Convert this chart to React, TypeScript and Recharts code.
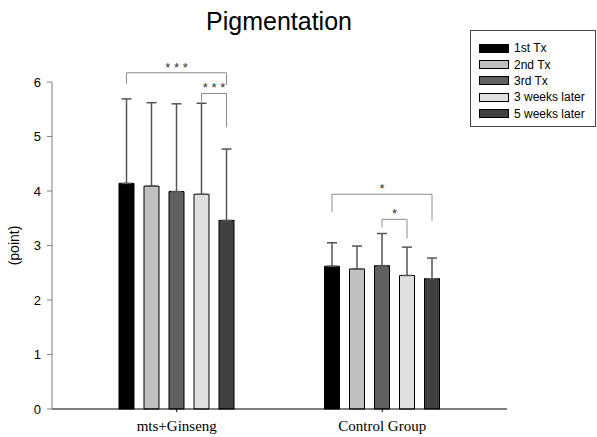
import React from 'react';
import { BarChart, Bar, XAxis, YAxis, ErrorBar } from 'recharts';

const groups = ['mts+Ginseng', 'Control Group'];
const seriesNames = ['1st Tx', '2nd Tx', '3rd Tx', '3 weeks later', '5 weeks later'];
const seriesColors = ['#000000', '#c0c0c0', '#606060', '#e0e0e0', '#404040'];

const tx1 = [4.14, 2.62];
const tx2 = [4.09, 2.57];
const tx3 = [3.99, 2.63];
const wk3 = [3.94, 2.45];
const wk5 = [3.46, 2.39];

const tx1Sd = [1.55, 0.43];
const tx2Sd = [1.53, 0.42];
const tx3Sd = [1.61, 0.59];
const wk3Sd = [1.67, 0.52];
const wk5Sd = [1.31, 0.38];

const yTicks = [0, 1, 2, 3, 4, 5, 6];

// significance brackets: bar indices, top of bracket and where each leg ends (y units)
const brackets = [
  { group: 0, from: 0, to: 4, top: 6.17, left: 5.97, right: 5.95, label: '* * *' },
  { group: 0, from: 3, to: 4, top: 5.79, left: 5.64, right: 5.17, label: '* * *' },
  { group: 1, from: 0, to: 4, top: 3.94, left: 3.62, right: 3.45, label: '*' },
  { group: 1, from: 2, to: 3, top: 3.48, left: 3.33, right: 3.13, label: '*' },
];

const means = [tx1, tx2, tx3, wk3, wk5];
const sds = [tx1Sd, tx2Sd, tx3Sd, wk3Sd, wk5Sd];

const data = groups.map((name, g) => {
  const row: any = { name };
  means.forEach((m, s) => {
    row['s' + s] = m[g];
    row['e' + s] = [0, sds[s][g]];
  });
  return row;
});

const BAR_SIZE = 15;
const BAR_GAP = 10;

// last series shape: draws its bar and the bracket annotations for that group
const LastBarShape = (props: any) => {
  const { x, y, width, height, fill, payload } = props;
  const g = groups.indexOf(payload.name);
  const value = payload.s4;
  const base = y + height;
  const py = (v: number) => base - (v * height) / value;
  const pitch = width + BAR_GAP;
  const cx = (i: number) => x + width / 2 - (4 - i) * pitch;
  return (
    <g>
      <rect x={x} y={y} width={width} height={height} fill={fill} stroke="#000" strokeWidth={1} />
      {brackets
        .filter((b) => b.group === g)
        .map((b, i) => {
          const x1 = cx(b.from);
          const x2 = cx(b.to);
          const yt = py(b.top);
          return (
            <g key={i}>
              <polyline
                points={`${x1},${py(b.left)} ${x1},${yt} ${x2},${yt} ${x2},${py(b.right)}`}
                fill="none"
                stroke="#8c8c8c"
                strokeWidth={1}
              />
              <text
                x={(x1 + x2) / 2}
                y={yt - 1}
                textAnchor="middle"
                fontSize={13}
                fill="#333"
                fontFamily="Liberation Sans, Arial, sans-serif"
              >
                {b.label}
              </text>
            </g>
          );
        })}
    </g>
  );
};

const LegendBox = () => (
  <div
    style={{
      position: 'absolute',
      left: 470,
      top: 30,
      border: '1px solid #444',
      width: 126,
      height: 97,
      boxSizing: 'border-box',
      padding: '9px 0 0 8px',
      background: '#fff',
      fontFamily: 'Liberation Sans, Arial, sans-serif',
      fontSize: 12,
      color: '#000',
    }}
  >
    {seriesNames.map((n, i) => (
      <div key={n} style={{ display: 'flex', alignItems: 'center', height: 16.4 }}>
        <span
          style={{
            display: 'inline-block',
            width: 30,
            height: 9,
            background: seriesColors[i],
            border: '1px solid #000',
            boxSizing: 'border-box',
            marginRight: 5,
          }}
        />
        <span>{n}</span>
      </div>
    ))}
  </div>
);

export default function App() {
  return (
    <div style={{ position: 'absolute', left: 0, top: 0, width: 597, height: 437, background: '#fff' }}>
      <div
        style={{
          position: 'absolute',
          left: 0,
          width: 558,
          top: 7,
          textAlign: 'center',
          fontFamily: 'Liberation Sans, Arial, sans-serif',
          fontSize: 25,
          color: '#000',
        }}
      >
        Pigmentation
      </div>
      <BarChart
        width={597}
        height={437}
        data={data}
        margin={{ top: 82, right: 90, bottom: 0, left: 0 }}
        barSize={BAR_SIZE}
        barGap={BAR_GAP}
      >
        <XAxis
          dataKey="name"
          height={28}
          padding={{ left: 22, right: 22 }}
          stroke="#000"
          tickSize={3}
          tickMargin={8}
          tick={{ fill: '#000', fontSize: 15, fontFamily: 'Liberation Serif, serif' }}
        />
        <YAxis
          domain={[0, 6]}
          ticks={yTicks}
          width={52}
          stroke="#808080"
          tickSize={5}
          tickMargin={6}
          tick={{ fill: '#000', fontSize: 13, fontFamily: 'Liberation Sans, Arial, sans-serif' }}
          label={{
            value: '(point)',
            angle: -90,
            position: 'insideLeft',
            offset: 14,
            style: { fill: '#000', fontSize: 14, fontFamily: 'Liberation Sans, Arial, sans-serif', textAnchor: 'middle' },
          }}
        />
        {seriesNames.map((n, s) => (
          <Bar
            key={n}
            dataKey={'s' + s}
            name={n}
            fill={seriesColors[s]}
            stroke="#000"
            strokeWidth={1}
            isAnimationActive={false}
            shape={s === 4 ? LastBarShape : undefined}
          >
            <ErrorBar dataKey={'e' + s} width={5} stroke="#555" strokeWidth={1.5} direction="y" />
          </Bar>
        ))}
      </BarChart>
      <LegendBox />
    </div>
  );
}
